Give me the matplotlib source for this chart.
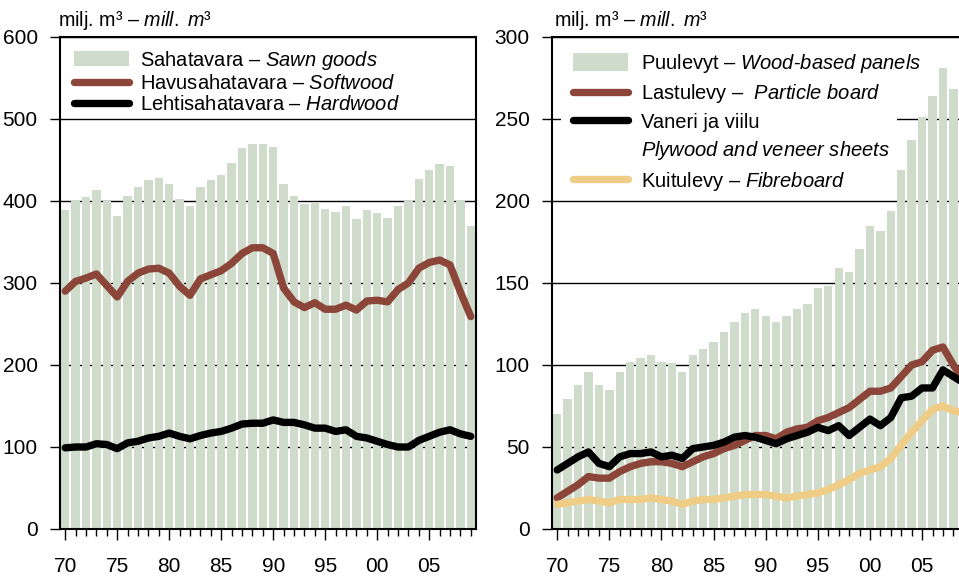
import matplotlib
matplotlib.use('Agg')
import matplotlib.pyplot as plt
from matplotlib import font_manager
from matplotlib.patches import Patch, Rectangle
from matplotlib.ticker import MultipleLocator

# vuodet 1970-2009
years = list(range(1970, 2010))

# vasen kuva: sahatavara (milj. m3)
sawn_goods = [389, 401, 405, 413, 400, 382, 406, 417, 426, 428,
              421, 402, 394, 417, 426, 432, 446, 465, 470, 470,
              466, 421, 406, 396, 399, 390, 387, 394, 378, 389,
              385, 379, 394, 400, 427, 438, 445, 443, 401, 370]
softwood = [290, 302, 306, 311, 297, 283, 302, 312, 317, 318,
            312, 296, 285, 305, 310, 315, 324, 336, 343, 343,
            336, 294, 277, 270, 276, 268, 268, 273, 267, 278,
            279, 277, 292, 300, 318, 325, 328, 322, 289, 259]
hardwood = [99, 100, 100, 104, 103, 98, 105, 107, 111, 113,
            117, 113, 110, 114, 117, 119, 123, 128, 129, 129,
            133, 130, 130, 127, 123, 123, 119, 121, 113, 111,
            107, 103, 100, 100, 108, 113, 118, 121, 116, 113]

# oikea kuva: puulevyt (milj. m3)
panels = [70, 79, 88, 96, 88, 85, 96, 102, 104, 106,
          102, 101, 96, 106, 110, 114, 120, 126, 132, 134,
          130, 126, 130, 134, 137, 147, 148, 159, 157, 171,
          185, 182, 194, 219, 237, 251, 264, 281, 268, 255]
particle_board = [19, 23, 27, 32, 31, 31, 35, 38, 40, 41,
                  41, 40, 38, 41, 44, 46, 49, 51, 54, 57,
                  57, 55, 59, 61, 62, 66, 68, 71, 74, 79,
                  84, 84, 86, 93, 100, 102, 109, 111, 100, 91]
plywood = [36, 40, 44, 47, 40, 38, 44, 46, 46, 47,
           44, 45, 43, 49, 50, 51, 53, 56, 57, 56,
           54, 52, 55, 57, 59, 62, 60, 63, 57, 62,
           67, 63, 68, 80, 81, 86, 86, 97, 93, 89]
fibreboard = [15, 16, 17, 18, 17, 16, 18, 18, 18, 19,
              18, 17, 15, 17, 18, 18, 19, 20, 21, 21,
              21, 20, 19, 20, 21, 22, 24, 27, 30, 34,
              36, 38, 43, 51, 59, 66, 73, 75, 72, 71]

tick_years = [1970, 1975, 1980, 1985, 1990, 1995, 2000, 2005]
tick_labels = ['70', '75', '80', '85', '90', '95', '00', '05']


def font_ok(name):
    try:
        font_manager.findfont(name, fallback_to_default=False)
        return True
    except ValueError:
        return False


if font_ok('Liberation Sans Narrow'):
    fam, fs, tfs = 'Liberation Sans Narrow', 16.5, 16.5
else:
    fam, fs, tfs = 'Liberation Sans', 14.5, 15

plt.rcParams['font.family'] = [fam, 'DejaVu Sans']
plt.rcParams['mathtext.fontset'] = 'custom'
plt.rcParams['mathtext.rm'] = fam
plt.rcParams['mathtext.it'] = fam + ':italic'

bar_color = '#cfdccb'
brown = '#8b4539'
yellow = '#efcd86'
lw = 5.3

W, H = 959, 578
fig = plt.figure(figsize=(W / 100, H / 100), dpi=100)


def px_axes(left, top, right, bottom):
    return fig.add_axes([left / W, 1 - bottom / H, (right - left) / W, (bottom - top) / H])


def style(ax, ymax, ystep):
    ax.set_xlim(1969.5, 2009.5)
    ax.set_ylim(0, ymax)
    ax.yaxis.set_major_locator(MultipleLocator(ystep))
    ax.set_xticks(tick_years, tick_labels)
    ax.xaxis.set_minor_locator(MultipleLocator(1))
    ax.tick_params(axis='y', length=7, width=1.0, pad=9, labelsize=tfs)
    ax.tick_params(axis='x', which='major', length=8, width=1.0, pad=12, labelsize=tfs)
    ax.tick_params(axis='x', which='minor', length=5, width=1.0)
    ax.grid(axis='y', color='black', linewidth=1.0)
    ax.set_axisbelow(True)
    for s in ax.spines.values():
        s.set_linewidth(1.5)


def line(ax, y, color):
    return ax.plot(years, y, color=color, lw=lw, solid_joinstyle='round',
                   solid_capstyle='round', zorder=3)[0]


# vasen
ax1 = px_axes(60, 37, 476, 529)
style(ax1, 600, 100)
b1 = ax1.bar(years, sawn_goods, width=0.8, color=bar_color, zorder=2)
l1 = line(ax1, softwood, brown)
l2 = line(ax1, hardwood, 'black')
ax1.legend([b1, l1, l2],
           ['Sahatavara – $\\mathit{Sawn\\ goods}$',
            'Havusahatavara – $\\mathit{Softwood}$',
            'Lehtisahatavara – $\\mathit{Hardwood}$'],
           loc='upper left', bbox_to_anchor=(0, 1 + 2 / 492), borderaxespad=0,
           borderpad=0.68, frameon=False, fontsize=fs, handlelength=2.74,
           handleheight=0.75, handletextpad=0.53, labelspacing=0.1)
ax1.text(-2 / 416, 1 + 11 / 492, 'milj. m³ – $\\mathit{mill.\\ m³}$',
         transform=ax1.transAxes, ha='left', va='baseline', fontsize=14.2)

# oikea
ax2 = px_axes(552, 37, 969, 529)
style(ax2, 300, 50)
b2 = ax2.bar(years, panels, width=0.8, color=bar_color, zorder=2)
l3 = line(ax2, particle_board, brown)
l4 = line(ax2, plywood, 'black')
l5 = line(ax2, fibreboard, yellow)
# selitteen valkoinen tausta peittää vain ruudukon
ax2.add_patch(Rectangle((9 / 417, 0.677), 336 / 417, 0.309, transform=ax2.transAxes,
                        facecolor='white', edgecolor='none', zorder=1))
blank = Patch(facecolor='none', edgecolor='none')
ax2.legend([b2, l3, l4, blank, l5],
           ['Puulevyt – $\\mathit{Wood}$-$\\mathit{based\\ panels}$',
            'Lastulevy –  $\\mathit{Particle\\ board}$',
            'Vaneri ja viilu',
            '$\\mathit{Plywood\\ and\\ veneer\\ sheets}$',
            'Kuitulevy – $\\mathit{Fibreboard}$'],
           loc='upper left', bbox_to_anchor=(11.6 / 417, 1 - 6 / 492), borderaxespad=0,
           borderpad=0.45, frameon=False, fontsize=fs, handlelength=2.74,
           handleheight=0.95, handletextpad=0.66, labelspacing=0.36)
ax2.text(2 / 417, 1 + 11 / 492, 'milj. m³ – $\\mathit{mill.\\ m³}$',
         transform=ax2.transAxes, ha='left', va='baseline', fontsize=14.2)

fig.savefig('out.png', dpi=100)
